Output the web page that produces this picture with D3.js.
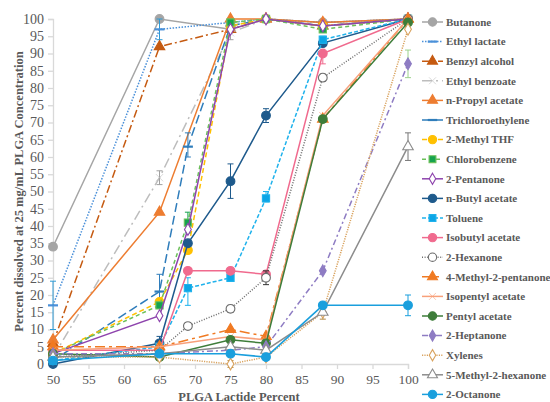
<!DOCTYPE html>
<html>
<head>
<meta charset="utf-8">
<script src="https://cdn.jsdelivr.net/npm/d3@7"></script>
<style>
  html, body { margin: 0; padding: 0; background: #fff; }
</style>
</head>
<body>
<svg id="chart" width="550" height="402"></svg>
<script>
// Lactide percentages sampled for each group of solvents
const xFast = [50, 65, 69, 75, 80, 88, 100];
const xQuick = [50, 65, 75, 80, 88, 100];
const xSlow = [50, 65, 75, 80, 88, 100];

// Percent dissolved for each solvent
const butanone            = [34, 100, 97, 100, 99, 100];
const ethylLactate        = [17, 97, 99, 100, 99, 100];
const benzylAlcohol       = [6, 92, 97, 100, 98, 100];
const ethylBenzoate       = [2, 54, 96, 100, 98, 100];
const nPropylAcetate      = [7, 44, 100, 100, 99, 100];
const trichloroethylene   = [1, 21, 63, 98, 100, 98, 100];
const methylTHF           = [3, 18, 33, 98, 100, 98, 100];
const chlorobenzene       = [3, 17, 41, 99, 100, 97, 100];
const pentanone2          = [3, 14, 39, 97, 100, 98, 100];
const nButylAcetate       = [0, 6, 35, 53, 72, 93, 100];
const toluene             = [1, 5, 22, 25, 48, 94, 100];
const isobutylAcetate     = [4, 4, 27, 27, 26, 90, 100];
const hexanone2           = [2, 4, 11, 16, 25, 83, 100];
const methylPentanone     = [5, 5, 10, 8, 71, 100];
const isopentylAcetate    = [4, 5, 8, 7, 72, 100];
const pentylAcetate       = [3, 2, 7, 6, 71, 99];
const heptanone2          = [3, 3, 4, 5, 27, 87];
const xylenes             = [2, 2, 0, 2, 15, 97];
const methylHexanone      = [2, 3, 5, 4, 15, 63];
const octanone2           = [1, 3, 3, 2, 17, 17];

const seriesNames = ["Butanone", "Ethyl lactate", "Benzyl alcohol", "Ethyl benzoate",
  "n-Propyl acetate", "Trichloroethylene", "2-Methyl THF", "Chlorobenzene", "2-Pentanone",
  "n-Butyl acetate", "Toluene", "Isobutyl acetate", "2-Hexanone", "4-Methyl-2-pentanone",
  "Isopentyl acetate", "Pentyl acetate", "2-Heptanone", "Xylenes", "5-Methyl-2-hexanone", "2-Octanone"];
const seriesX = [xQuick, xQuick, xQuick, xQuick, xQuick, xFast, xFast, xFast, xFast,
  xFast, xFast, xFast, xFast, xSlow, xSlow, xSlow, xSlow, xSlow, xSlow, xSlow];
const seriesY = [butanone, ethylLactate, benzylAlcohol, ethylBenzoate, nPropylAcetate,
  trichloroethylene, methylTHF, chlorobenzene, pentanone2, nButylAcetate, toluene,
  isobutylAcetate, hexanone2, methylPentanone, isopentylAcetate, pentylAcetate,
  heptanone2, xylenes, methylHexanone, octanone2];

// Error bars: [series, lactide %, low, high]
const errorBars = [
  ["Ethyl lactate", 50, 10, 24], ["Ethyl lactate", 65, 94, 100],
  ["Ethyl benzoate", 65, 52, 56], ["Ethyl benzoate", 75, 94, 98],
  ["Trichloroethylene", 65, 17, 26], ["Trichloroethylene", 69, 60, 67],
  ["Chlorobenzene", 69, 38, 44],
  ["n-Butyl acetate", 65, 4, 8], ["n-Butyl acetate", 75, 48, 58], ["n-Butyl acetate", 80, 70, 74],
  ["Toluene", 69, 17, 25], ["Toluene", 80, 47, 50], ["Toluene", 88, 93, 95],
  ["Isobutyl acetate", 88, 87, 90],
  ["2-Hexanone", 69, 10, 12], ["2-Hexanone", 75, 15, 17], ["2-Hexanone", 80, 23, 27], ["2-Hexanone", 88, 82, 84],
  ["2-Heptanone", 100, 83, 91],
  ["Xylenes", 75, -1, 1], ["Xylenes", 88, 13, 17],
  ["5-Methyl-2-hexanone", 100, 59, 67],
  ["2-Octanone", 100, 14, 20]
];

const xTicks = [50, 55, 60, 65, 70, 75, 80, 85, 90, 95, 100];
const yTicks = [0, 5, 10, 15, 20, 25, 30, 35, 40, 45, 50, 55, 60, 65, 70, 75, 80, 85, 90, 95, 100];

// Line and marker styling per series
const styles = {
  "Butanone":            { color: "#A5A5A5", dash: null,        marker: "circle" },
  "Ethyl lactate":       { color: "#4A90D9", dash: "1.5,1.5",   marker: "dash", errColor: "#2E9BD6" },
  "Benzyl alcohol":      { color: "#C55A11", dash: "8,3,2,3",   marker: "triangle" },
  "Ethyl benzoate":      { color: "#BDBDBD", dash: "10,4,2,4",  marker: "x", errColor: "#A0A0A0" },
  "n-Propyl acetate":    { color: "#ED7D31", dash: null,        marker: "triangle" },
  "Trichloroethylene":   { color: "#2F7DBB", dash: "9,4",       marker: "dash" },
  "2-Methyl THF":        { color: "#FFC000", dash: "5,3",       marker: "circle" },
  "Chlorobenzene":       { color: "#6CC05A", dash: "4,3",       marker: "square", fill: "#16A34F", errColor: "#16A34F" },
  "2-Pentanone":         { color: "#8E44AD", dash: null,        marker: "diamond", fill: "#fff" },
  "n-Butyl acetate":     { color: "#1E5A8C", dash: null,        marker: "circle" },
  "Toluene":             { color: "#1FB2EC", dash: "4,2",       marker: "square", fill: "#0DA5E6" },
  "Isobutyl acetate":    { color: "#F06A8E", dash: null,        marker: "circle" },
  "2-Hexanone":          { color: "#6E6E6E", dash: "1,1.6",     marker: "circle", fill: "#fff", errColor: "#333" },
  "4-Methyl-2-pentanone":{ color: "#F07A22", dash: "10,4,3,4",  marker: "triangle" },
  "Isopentyl acetate":   { color: "#F8A07A", dash: null,        marker: "x" },
  "Pentyl acetate":      { color: "#3E7D3A", dash: null,        marker: "circle" },
  "2-Heptanone":         { color: "#8E7CC3", dash: "6,3,2,3",   marker: "diamond", errColor: "#9CD28C" },
  "Xylenes":             { color: "#D9A35F", dash: "1.2,1.2",   marker: "diamond", fill: "#fff", errColor: "#B08840" },
  "5-Methyl-2-hexanone": { color: "#8C8C8C", dash: null,        marker: "triangle", fill: "#fff", errColor: "#777" },
  "2-Octanone":          { color: "#1A9FDD", dash: null,        marker: "circle" }
};

const FONT = "'Liberation Serif', serif";
const svg = d3.select("#chart");
const x = d3.scaleLinear().domain([50, 100]).range([53, 408]);
const y = d3.scaleLinear().domain([0, 100]).range([364, 19]);
const textColor = "#595959";
const axisColor = "#D9D9D9";

// Axes
const gx = svg.append("g").attr("transform", `translate(0,${y(0)})`)
  .call(d3.axisBottom(x).tickValues(xTicks).tickSize(5).tickPadding(5).tickFormat(d3.format("d")));
const gy = svg.append("g").attr("transform", `translate(${x(50)},0)`)
  .call(d3.axisLeft(y).tickValues(yTicks).tickSize(5).tickPadding(4).tickFormat(d3.format("d")));
gx.attr("font-family", FONT).attr("font-size", 13.5);
gy.attr("font-family", FONT).attr("font-size", 14);
[gx, gy].forEach(g => {
  g.select(".domain").attr("stroke", axisColor).attr("stroke-width", 1.3);
  g.selectAll(".tick line").attr("stroke", axisColor).attr("stroke-width", 1.3);
  g.selectAll(".tick text").attr("fill", textColor);
});

// Axis titles
svg.append("text").attr("x", 239).attr("y", 400.5)
  .attr("text-anchor", "middle").attr("fill", textColor)
  .attr("font-family", FONT).attr("font-size", 12.5).attr("font-weight", "bold")
  .text("PLGA Lactide Percent");
svg.append("text").attr("transform", `translate(20,191.5) rotate(-90)`)
  .attr("text-anchor", "middle").attr("dominant-baseline", "middle").attr("fill", textColor)
  .attr("font-family", FONT).attr("font-size", 12.5).attr("font-weight", "bold")
  .text("Percent dissolved at 25 mg/mL PLGA Concentration");

const symbolMap = {
  circle: d3.symbolCircle, triangle: d3.symbolTriangle, square: d3.symbolSquare,
  diamond: d3.symbolDiamond, x: d3.symbolX
};
const markerSize = { circle: 60, triangle: 48, square: 52, diamond: 40, x: 36 };

function drawMarker(g, st, cx, cy, scale) {
  const k = scale || 1;
  if (st.marker === "dash") {
    g.append("line").attr("x1", cx - 5 * k).attr("x2", cx + 5 * k)
      .attr("y1", cy).attr("y2", cy)
      .attr("stroke", st.color).attr("stroke-width", 2.2);
    return;
  }
  const sym = d3.symbol().type(symbolMap[st.marker]).size(markerSize[st.marker] * k * k);
  const p = g.append("path").attr("d", sym()).attr("transform", `translate(${cx},${cy})`);
  if (st.marker === "x") {
    p.attr("fill", st.color).attr("stroke", st.color).attr("stroke-width", 0.6);
  } else {
    p.attr("fill", st.fill || st.color).attr("stroke", st.color).attr("stroke-width", 1.1);
  }
}

const plot = svg.append("g");
const line = d3.line().x(d => x(d[0])).y(d => y(d[1]));

seriesNames.forEach((name, i) => {
  const st = styles[name];
  const pts = seriesX[i].map((xv, j) => [xv, seriesY[i][j]]);
  const g = plot.append("g");
  g.append("path").datum(pts).attr("d", line)
    .attr("fill", "none").attr("stroke", st.color).attr("stroke-width", 1.5)
    .attr("stroke-dasharray", st.dash);
  errorBars.filter(e => e[0] === name).forEach(e => {
    const c = st.errColor || st.color;
    const ex = x(e[1]);
    g.append("line").attr("x1", ex).attr("x2", ex).attr("y1", y(e[2])).attr("y2", y(e[3]))
      .attr("stroke", c).attr("stroke-width", 1);
    [e[2], e[3]].forEach(v => g.append("line")
      .attr("x1", ex - 3).attr("x2", ex + 3).attr("y1", y(v)).attr("y2", y(v))
      .attr("stroke", c).attr("stroke-width", 1));
  });
  pts.forEach(p => drawMarker(g, st, x(p[0]), y(p[1])));
});

// Legend
const legend = svg.append("g");
seriesNames.forEach((name, i) => {
  const st = styles[name];
  const ly = 22 + i * 19.6;
  const g = legend.append("g");
  g.append("line").attr("x1", 422).attr("x2", 443).attr("y1", ly).attr("y2", ly)
    .attr("stroke", st.color).attr("stroke-width", 1.5).attr("stroke-dasharray", st.dash);
  drawMarker(g, st, 432.5, ly, 0.95);
  g.append("text").attr("x", 446).attr("y", ly + 3.8)
    .attr("fill", textColor).attr("font-family", FONT)
    .attr("font-size", 11).attr("font-weight", "bold")
    .text(name);
});
</script>
</body>
</html>
